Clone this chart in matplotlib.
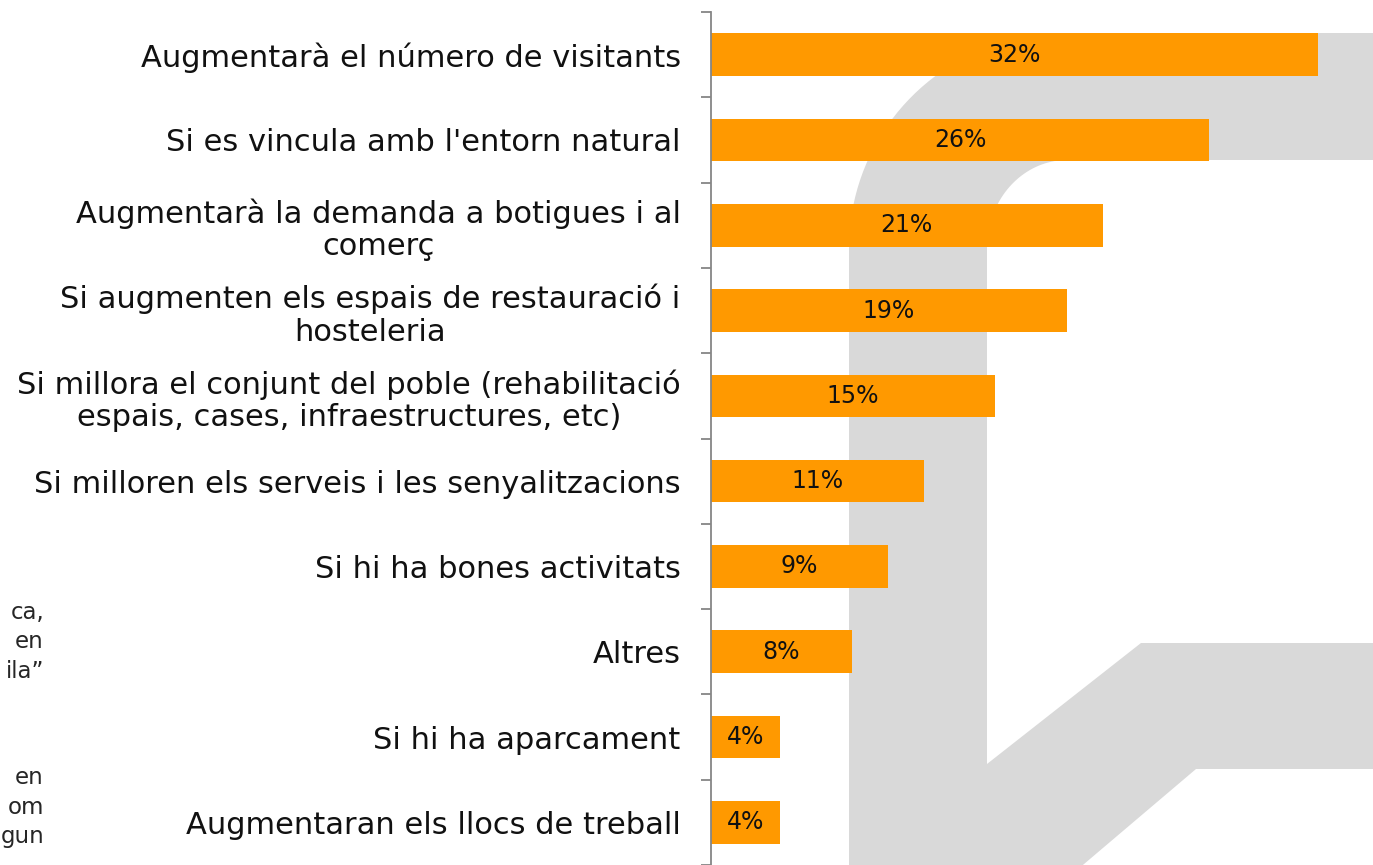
import numpy as np
import matplotlib
matplotlib.use("Agg")
import matplotlib.pyplot as plt
from matplotlib.patches import PathPatch
from matplotlib.path import Path

# ---------------- data ----------------
categories = [
    "Augmentarà el número de visitants",
    "Si es vincula amb l'entorn natural",
    "Augmentarà la demanda a botigues i al\ncomerç",
    "Si augmenten els espais de restauració i\nhosteleria",
    "Si millora el conjunt del poble (rehabilitació\nespais, cases, infraestructures, etc)",
    "Si milloren els serveis i les senyalitzacions",
    "Si hi ha bones activitats",
    "Altres",
    "Si hi ha aparcament",
    "Augmentaran els llocs de treball",
]
values = [32.0, 26.3, 20.7, 18.8, 15.0, 11.25, 9.36, 7.46, 3.69, 3.69]
value_labels = ["32%", "26%", "21%", "19%", "15%", "11%", "9%", "8%", "4%", "4%"]
background_fragments = ["ca,", "en", "ila\u201d", "en", "om", "gun"]

# ---------------- figure ----------------
W, H = 1373, 865
fig = plt.figure(figsize=(W / 100, H / 100), dpi=100)
fig.patch.set_facecolor("white")

# background layer in pixel coordinates (watermark + cut-off slide text)
bg = fig.add_axes([0, 0, 1, 1])
bg.set_xlim(0, W)
bg.set_ylim(H, 0)
bg.axis("off")

def arc(cx, cy, rx, ry, a0, a1, n=40):
    t = np.radians(np.linspace(a0, a1, n))
    return list(zip(cx + rx * np.cos(t), cy - ry * np.sin(t)))

pts = [(849, H + 5), (849, 248)]
pts += arc(1065, 248, 216, 215, 180, 90)
pts += [(W + 5, 33), (W + 5, 160), (1067, 160)]
pts += arc(1067, 248, 80, 88, 90, 180)
pts += [(987, 764), (1141, 643), (W + 5, 643), (W + 5, 769),
        (1196, 769), (1077, H + 5)]
wm = Path(pts + [pts[0]], [Path.MOVETO] + [Path.LINETO] * (len(pts) - 1) + [Path.CLOSEPOLY])
bg.add_patch(PathPatch(wm, facecolor="#D9D9D9", edgecolor="none", zorder=0))

frag_y = [612, 642, 672, 777, 807, 837]
for s, yy in zip(background_fragments, frag_y):
    bg.text(44, yy, s, ha="right", va="center", fontsize=16.5, color="#262626")

# main chart
x0 = 710.5
ax = fig.add_axes([x0 / W, 0, 1 - x0 / W, 853 / H])
ax.set_facecolor("none")
ypos = np.arange(len(categories))
ax.barh(ypos, values, height=0.5, color="#FF9900", zorder=2)
ax.set_ylim(len(categories) - 0.5, -0.5)
ax.set_xlim(0, (W - x0) / 18.97)

for sp in ("top", "right", "bottom"):
    ax.spines[sp].set_visible(False)
ax.spines["left"].set_color("#868686")
ax.spines["left"].set_linewidth(1.3)

ax.set_xticks([])
ax.set_yticks(ypos)
ax.set_yticklabels(categories, fontsize=22, color="#111111")
ax.tick_params(axis="y", which="major", length=0, pad=21.5)
ax.set_yticks(np.arange(-0.5, len(categories), 1), minor=True)
ax.tick_params(axis="y", which="minor", length=7, width=1.3, color="#868686")
for lbl in ax.get_yticklabels():
    lbl.set_multialignment("center")
    lbl.set_linespacing(1.15)

for i, (v, lab) in enumerate(zip(values, value_labels)):
    ax.text(v / 2, i, lab, ha="center", va="center", fontsize=17, color="#111111", zorder=3)

fig.savefig("out.png", dpi=100)
